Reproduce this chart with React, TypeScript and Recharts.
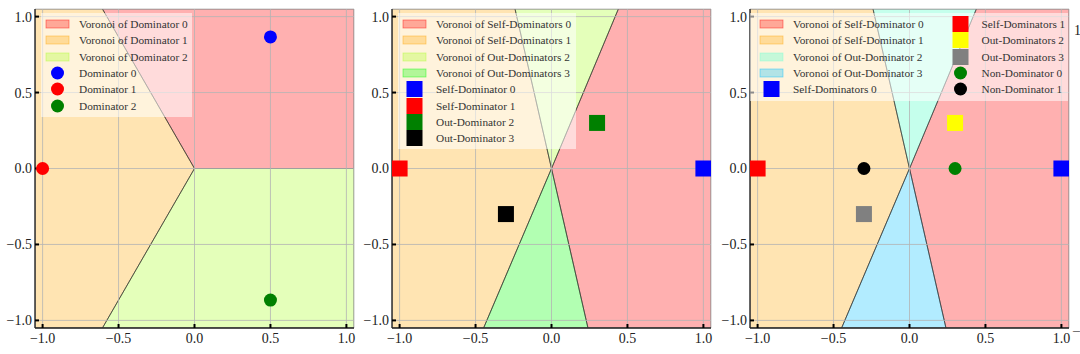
import React from 'react';
import { ComposedChart, Scatter, XAxis, YAxis, CartesianGrid, Legend } from 'recharts';

type Pt = { x: number; y: number };

const TICKS = [-1, -0.5, 0, 0.5, 1];
const DOMAIN: [number, number] = [-1.05, 1.05];

// left panel: three dominators on a circle
const dominator0: Pt[] = [{ x: 0.5, y: 0.866 }];
const dominator1: Pt[] = [{ x: -1, y: 0 }];
const dominator2: Pt[] = [{ x: 0.5, y: -0.866 }];
const voronoiDom0: Pt[] = [{ x: -0.606, y: 1.05 }, { x: 1.05, y: 1.05 }, { x: 1.05, y: 0 }, { x: 0, y: 0 }];
const voronoiDom1: Pt[] = [{ x: -1.05, y: 1.05 }, { x: -0.606, y: 1.05 }, { x: 0, y: 0 }, { x: -0.606, y: -1.05 }, { x: -1.05, y: -1.05 }];
const voronoiDom2: Pt[] = [{ x: 0, y: 0 }, { x: 1.05, y: 0 }, { x: 1.05, y: -1.05 }, { x: -0.606, y: -1.05 }];

// middle + right panels
const selfDom0: Pt[] = [{ x: 1, y: 0 }];
const selfDom1: Pt[] = [{ x: -1, y: 0 }];
const outDom2: Pt[] = [{ x: 0.3, y: 0.3 }];
const outDom3: Pt[] = [{ x: -0.3, y: -0.3 }];
const nonDom0: Pt[] = [{ x: 0.3, y: 0 }];
const nonDom1: Pt[] = [{ x: -0.3, y: 0 }];
const voronoiSelf0: Pt[] = [{ x: 0, y: 0 }, { x: 0.44, y: 1.05 }, { x: 1.05, y: 1.05 }, { x: 1.05, y: -1.05 }, { x: 0.24, y: -1.05 }];
const voronoiSelf1: Pt[] = [{ x: -1.05, y: 1.05 }, { x: -0.24, y: 1.05 }, { x: 0, y: 0 }, { x: -0.447, y: -1.05 }, { x: -1.05, y: -1.05 }];
const voronoiOut2: Pt[] = [{ x: -0.24, y: 1.05 }, { x: 0.44, y: 1.05 }, { x: 0, y: 0 }];
const voronoiOut3: Pt[] = [{ x: -0.447, y: -1.05 }, { x: 0.24, y: -1.05 }, { x: 0, y: 0 }];

const SERIF = '"Liberation Serif", "Times New Roman", serif';

type Region = { data: Pt[]; color: string; opacity: number; label: string };
type Marker = { data: Pt[]; color: string; kind: 'circle' | 'square'; label: string };
type LegendItem = { label: string; color: string; opacity?: number; kind: 'patch' | 'circle' | 'square' };

const fmt = (v: number) => (v < 0 ? '\u2212' : '') + Math.abs(v).toFixed(1);

const polygonLine = (color: string, opacity: number) => (p: any) => (
  <polygon
    points={(p.points || []).map((q: any) => `${q.x},${q.y}`).join(' ')}
    fill={color}
    fillOpacity={opacity}
    stroke="#333"
    strokeOpacity={0.8}
    strokeWidth={0.8}
  />
);

const emptyShape = () => <g />;

const markerShape = (color: string, kind: 'circle' | 'square') => (p: any) =>
  kind === 'circle' ? (
    <circle cx={p.cx} cy={p.cy} r={6.5} fill={color} />
  ) : (
    <rect x={p.cx - 8} y={p.cy - 8} width={16} height={16} fill={color} />
  );

function LegendIcon({ item }: { item: LegendItem }) {
  return (
    <svg width={33} height={16} style={{ flex: 'none' }}>
      {item.kind === 'patch' && (
        <rect x={5} y={4} width={23} height={8} fill={item.color} fillOpacity={item.opacity} stroke={item.color} strokeOpacity={0.5} strokeWidth={0.8} />
      )}
      {item.kind === 'circle' && <circle cx={16.5} cy={8} r={6.5} fill={item.color} />}
      {item.kind === 'square' && <rect x={8.5} y={0} width={16} height={16} fill={item.color} />}
    </svg>
  );
}

function LegendBox({ columns, colX }: { columns: LegendItem[][]; colX: number[] }) {
  const rows = Math.max(...columns.map((c) => c.length));
  return (
    <div style={{ position: 'relative', height: rows * 16.3 + 6, background: 'rgba(255,255,255,0.55)' }}>
      {columns.map((col, ci) => (
        <div key={ci} style={{ position: 'absolute', left: colX[ci], top: 3 }}>
          {col.map((it, i) => (
            <div key={i} style={{ display: 'flex', alignItems: 'center', height: 16.3, whiteSpace: 'nowrap' }}>
              <LegendIcon item={it} />
              <span style={{ marginLeft: 5, fontFamily: SERIF, fontSize: 11.3, color: '#333', lineHeight: '16px' }}>{it.label}</span>
            </div>
          ))}
        </div>
      ))}
    </div>
  );
}

const frame = { stroke: '#222', strokeWidth: 1.3 };
const tickText = { fill: '#222', fontSize: 14, fontFamily: SERIF };
const tickLine = { stroke: '#000', strokeWidth: 2 };

function Panel({ left, regions, markers, legendCols, colX, legendLeft, legendWidth }: {
  left: number; regions: Region[]; markers: Marker[]; legendCols: LegendItem[][]; colX: number[]; legendLeft: number; legendWidth: number;
}) {
  return (
    <div style={{ position: 'absolute', left, top: 0 }}>
      <ComposedChart width={360} height={354} margin={{ top: 9, right: 6, bottom: 0, left: 0 }}>
        <XAxis type="number" dataKey="x" domain={DOMAIN} ticks={TICKS} allowDataOverflow tickFormatter={fmt}
          height={26} tickSize={-4} tickMargin={9} tick={tickText} tickLine={tickLine} axisLine={frame} />
        <YAxis type="number" dataKey="y" domain={DOMAIN} ticks={TICKS} allowDataOverflow tickFormatter={fmt}
          width={35} tickSize={-4} tickMargin={7} tick={tickText} tickLine={tickLine} axisLine={frame} />
        <XAxis xAxisId="top" orientation="top" type="number" domain={DOMAIN} allowDataOverflow height={0} tick={false} tickLine={false} axisLine={frame} />
        <YAxis yAxisId="right" orientation="right" type="number" domain={DOMAIN} allowDataOverflow width={0} tick={false} tickLine={false} axisLine={frame} />
        {regions.map((r, i) => (
          <Scatter key={'reg' + i} data={r.data} line={polygonLine(r.color, r.opacity)} shape={emptyShape} isAnimationActive={false} zIndex={100} />
        ))}
        {/* grid sits above the translucent regions but below the axes and markers */}
        <CartesianGrid stroke="#b4b4b4" strokeWidth={0.8} zIndex={200} />
        {markers.map((m, i) => (
          <Scatter key={'mk' + i} data={m.data} shape={markerShape(m.color, m.kind)} isAnimationActive={false} zIndex={700} />
        ))}
        <Legend
          layout="horizontal"
          verticalAlign="middle"
          align="center"
          wrapperStyle={{ left: legendLeft, top: 13, width: legendWidth }}
          content={() => <LegendBox columns={legendCols} colX={colX} />}
        />
      </ComposedChart>
    </div>
  );
}

const RED = '#ff0000';
const ORANGE = '#ffa500';
const GREENYELLOW = '#adff2f';
const LIME = '#00ff00';
const AQUA = '#7fffd4';
const SKY = '#00bfff';

const p1Regions: Region[] = [
  { data: voronoiDom0, color: RED, opacity: 0.31, label: 'Voronoi of Dominator 0' },
  { data: voronoiDom1, color: ORANGE, opacity: 0.3, label: 'Voronoi of Dominator 1' },
  { data: voronoiDom2, color: GREENYELLOW, opacity: 0.33, label: 'Voronoi of Dominator 2' },
];
const p1Markers: Marker[] = [
  { data: dominator0, color: '#0000ff', kind: 'circle', label: 'Dominator 0' },
  { data: dominator1, color: '#ff0000', kind: 'circle', label: 'Dominator 1' },
  { data: dominator2, color: '#008000', kind: 'circle', label: 'Dominator 2' },
];

const p2Regions: Region[] = [
  { data: voronoiSelf0, color: RED, opacity: 0.31, label: 'Voronoi of Self-Dominators 0' },
  { data: voronoiSelf1, color: ORANGE, opacity: 0.3, label: 'Voronoi of Self-Dominators 1' },
  { data: voronoiOut2, color: GREENYELLOW, opacity: 0.33, label: 'Voronoi of Out-Dominators 2' },
  { data: voronoiOut3, color: LIME, opacity: 0.3, label: 'Voronoi of Out-Dominators 3' },
];
const p2Markers: Marker[] = [
  { data: selfDom0, color: '#0000ff', kind: 'square', label: 'Self-Dominator 0' },
  { data: selfDom1, color: '#ff0000', kind: 'square', label: 'Self-Dominator 1' },
  { data: outDom2, color: '#008000', kind: 'square', label: 'Out-Dominator 2' },
  { data: outDom3, color: '#000000', kind: 'square', label: 'Out-Dominator 3' },
];

const p3Regions: Region[] = [
  { data: voronoiSelf0, color: RED, opacity: 0.31, label: 'Voronoi of Self-Dominator 0' },
  { data: voronoiSelf1, color: ORANGE, opacity: 0.3, label: 'Voronoi of Self-Dominator 1' },
  { data: voronoiOut2, color: AQUA, opacity: 0.45, label: 'Voronoi of Out-Dominator 2' },
  { data: voronoiOut3, color: SKY, opacity: 0.3, label: 'Voronoi of Out-Dominator 3' },
];
const p3Markers: Marker[] = [
  { data: selfDom0, color: '#0000ff', kind: 'square', label: 'Self-Dominators 0' },
  { data: selfDom1, color: '#ff0000', kind: 'square', label: 'Self-Dominators 1' },
  { data: outDom2, color: '#ffff00', kind: 'square', label: 'Out-Dominators 2' },
  { data: outDom3, color: '#808080', kind: 'square', label: 'Out-Dominators 3' },
  { data: nonDom0, color: '#008000', kind: 'circle', label: 'Non-Dominator 0' },
  { data: nonDom1, color: '#000000', kind: 'circle', label: 'Non-Dominator 1' },
];

const patchItems = (rs: Region[]): LegendItem[] => rs.map((r) => ({ label: r.label, color: r.color, opacity: r.opacity, kind: 'patch' }));
const markerItems = (ms: Marker[]): LegendItem[] => ms.map((m) => ({ label: m.label, color: m.color, kind: m.kind }));

export default function App() {
  const p3Items = [...patchItems(p3Regions), ...markerItems(p3Markers)];
  return (
    <div style={{ position: 'absolute', left: 0, top: 0, width: 1080, height: 354, background: '#fff', overflow: 'hidden' }}>
      <Panel left={0} regions={p1Regions} markers={p1Markers}
        legendCols={[[...patchItems(p1Regions), ...markerItems(p1Markers)]]} colX={[0]} legendLeft={41} legendWidth={151} />
      <Panel left={357} regions={p2Regions} markers={p2Markers}
        legendCols={[[...patchItems(p2Regions), ...markerItems(p2Markers)]]} colX={[0]} legendLeft={41} legendWidth={178} />
      <Panel left={715} regions={p3Regions} markers={p3Markers}
        legendCols={[p3Items.slice(0, 5), p3Items.slice(5)]} colX={[5, 193.5]} legendLeft={35} legendWidth={318} />
      <div style={{ position: 'absolute', left: 1074, top: 23, fontFamily: SERIF, fontSize: 14, color: '#222' }}>1</div>
      <div style={{ position: 'absolute', left: 1073, top: 323, fontFamily: SERIF, fontSize: 14, color: '#555' }}>–</div>
    </div>
  );
}
